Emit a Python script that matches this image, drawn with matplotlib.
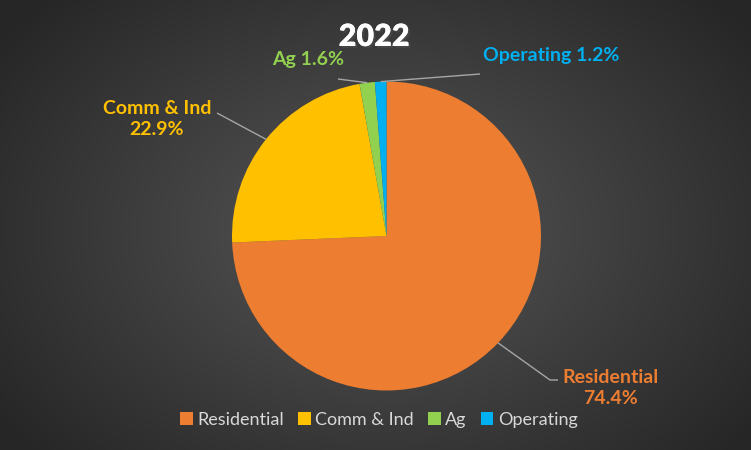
import numpy as np
import matplotlib
matplotlib.use("Agg")
import matplotlib.pyplot as plt
import matplotlib.patheffects as pe
from matplotlib.patches import Patch

plt.rcParams['font.family'] = ['Lato', 'DejaVu Sans']

categories = ['Residential', 'Comm & Ind', 'Ag', 'Operating']
shares = [74.4, 22.9, 1.6, 1.2]
colors = ['#ED7D31', '#FFC000', '#92D050', '#00B0F0']
title = '2022'

W, H = 751, 450
fig = plt.figure(figsize=(W / 100, H / 100), dpi=100)

# radial gray background
bg = fig.add_axes([0, 0, 1, 1])
yy, xx = np.mgrid[0:H, 0:W]
r = np.sqrt(((xx - 380) / 470.0) ** 2 + ((yy - 230) / 330.0) ** 2)
r = np.clip(r, 0, 1)
g = 0.34 - 0.19 * r
bg.imshow(np.dstack([g, g, g]), extent=[0, W, 0, H], origin='upper', aspect='auto')
bg.axis('off')

# pie placed so centre is at (386.5, 236) px, radius 154.5 px
cx, cy, R = 386.5, 236.0, 154.5
ax = fig.add_axes([(cx - R) / W, (H - cy - R) / H, 2 * R / W, 2 * R / H])
wedges, _ = ax.pie(shares, colors=colors, startangle=90, counterclock=False,
                   radius=1, wedgeprops=dict(linewidth=0))
ax.set_xlim(-1, 1)
ax.set_ylim(-1, 1)
ax.axis('off')


def px(x, y):
    # top-left pixel -> data coords of the pie axes
    return (x - cx) / R, (cy - y) / R


def edge(w):
    a = np.deg2rad((w.theta1 + w.theta2) / 2)
    return np.cos(a), np.sin(a)


line_kw = dict(color='#A6A6A6', lw=1.0, solid_capstyle='butt', clip_on=False)
label_kw = dict(fontsize=14, fontweight='bold', ha='center', va='center')

# leader lines
elbows = [
    [(550, 380), (558, 380)],
    [(217, 113)],
    [(338, 79)],
    [(480, 74)],
]
for w, pts in zip(wedges, elbows):
    xs, ys = zip(edge(w), *[px(*p) for p in pts])
    ax.plot(xs, ys, **line_kw)

pct = ['%.1f%%' % s for s in shares]
ax.text(*px(610, 388), categories[0] + '\n' + pct[0], color=colors[0],
        linespacing=1.35, **label_kw)
ax.text(*px(157, 119), categories[1] + '\n' + pct[1], color=colors[1],
        linespacing=1.35, **label_kw)
ax.text(*px(308, 60), categories[2] + ' ' + pct[2], color=colors[2], **label_kw)
ax.text(*px(551, 55), categories[3] + ' ' + pct[3], color=colors[3], **label_kw)

fig.text(374 / W, 1 - 37 / H, title, color='white', fontsize=22, fontweight='heavy',
         ha='center', va='center',
         path_effects=[pe.withSimplePatchShadow(offset=(1.5, -1.5), alpha=0.6), pe.Normal()])

handles = [Patch(facecolor=c, edgecolor='none') for c in colors]
leg = fig.legend(handles, categories, loc='center', bbox_to_anchor=(379 / W, 1 - 420 / H),
                 ncol=4, frameon=False, fontsize=13, handlelength=0.7, handleheight=0.7,
                 handletextpad=0.25, columnspacing=0.78, labelcolor='#D9D9D9')

fig.savefig('out.png', dpi=100)
